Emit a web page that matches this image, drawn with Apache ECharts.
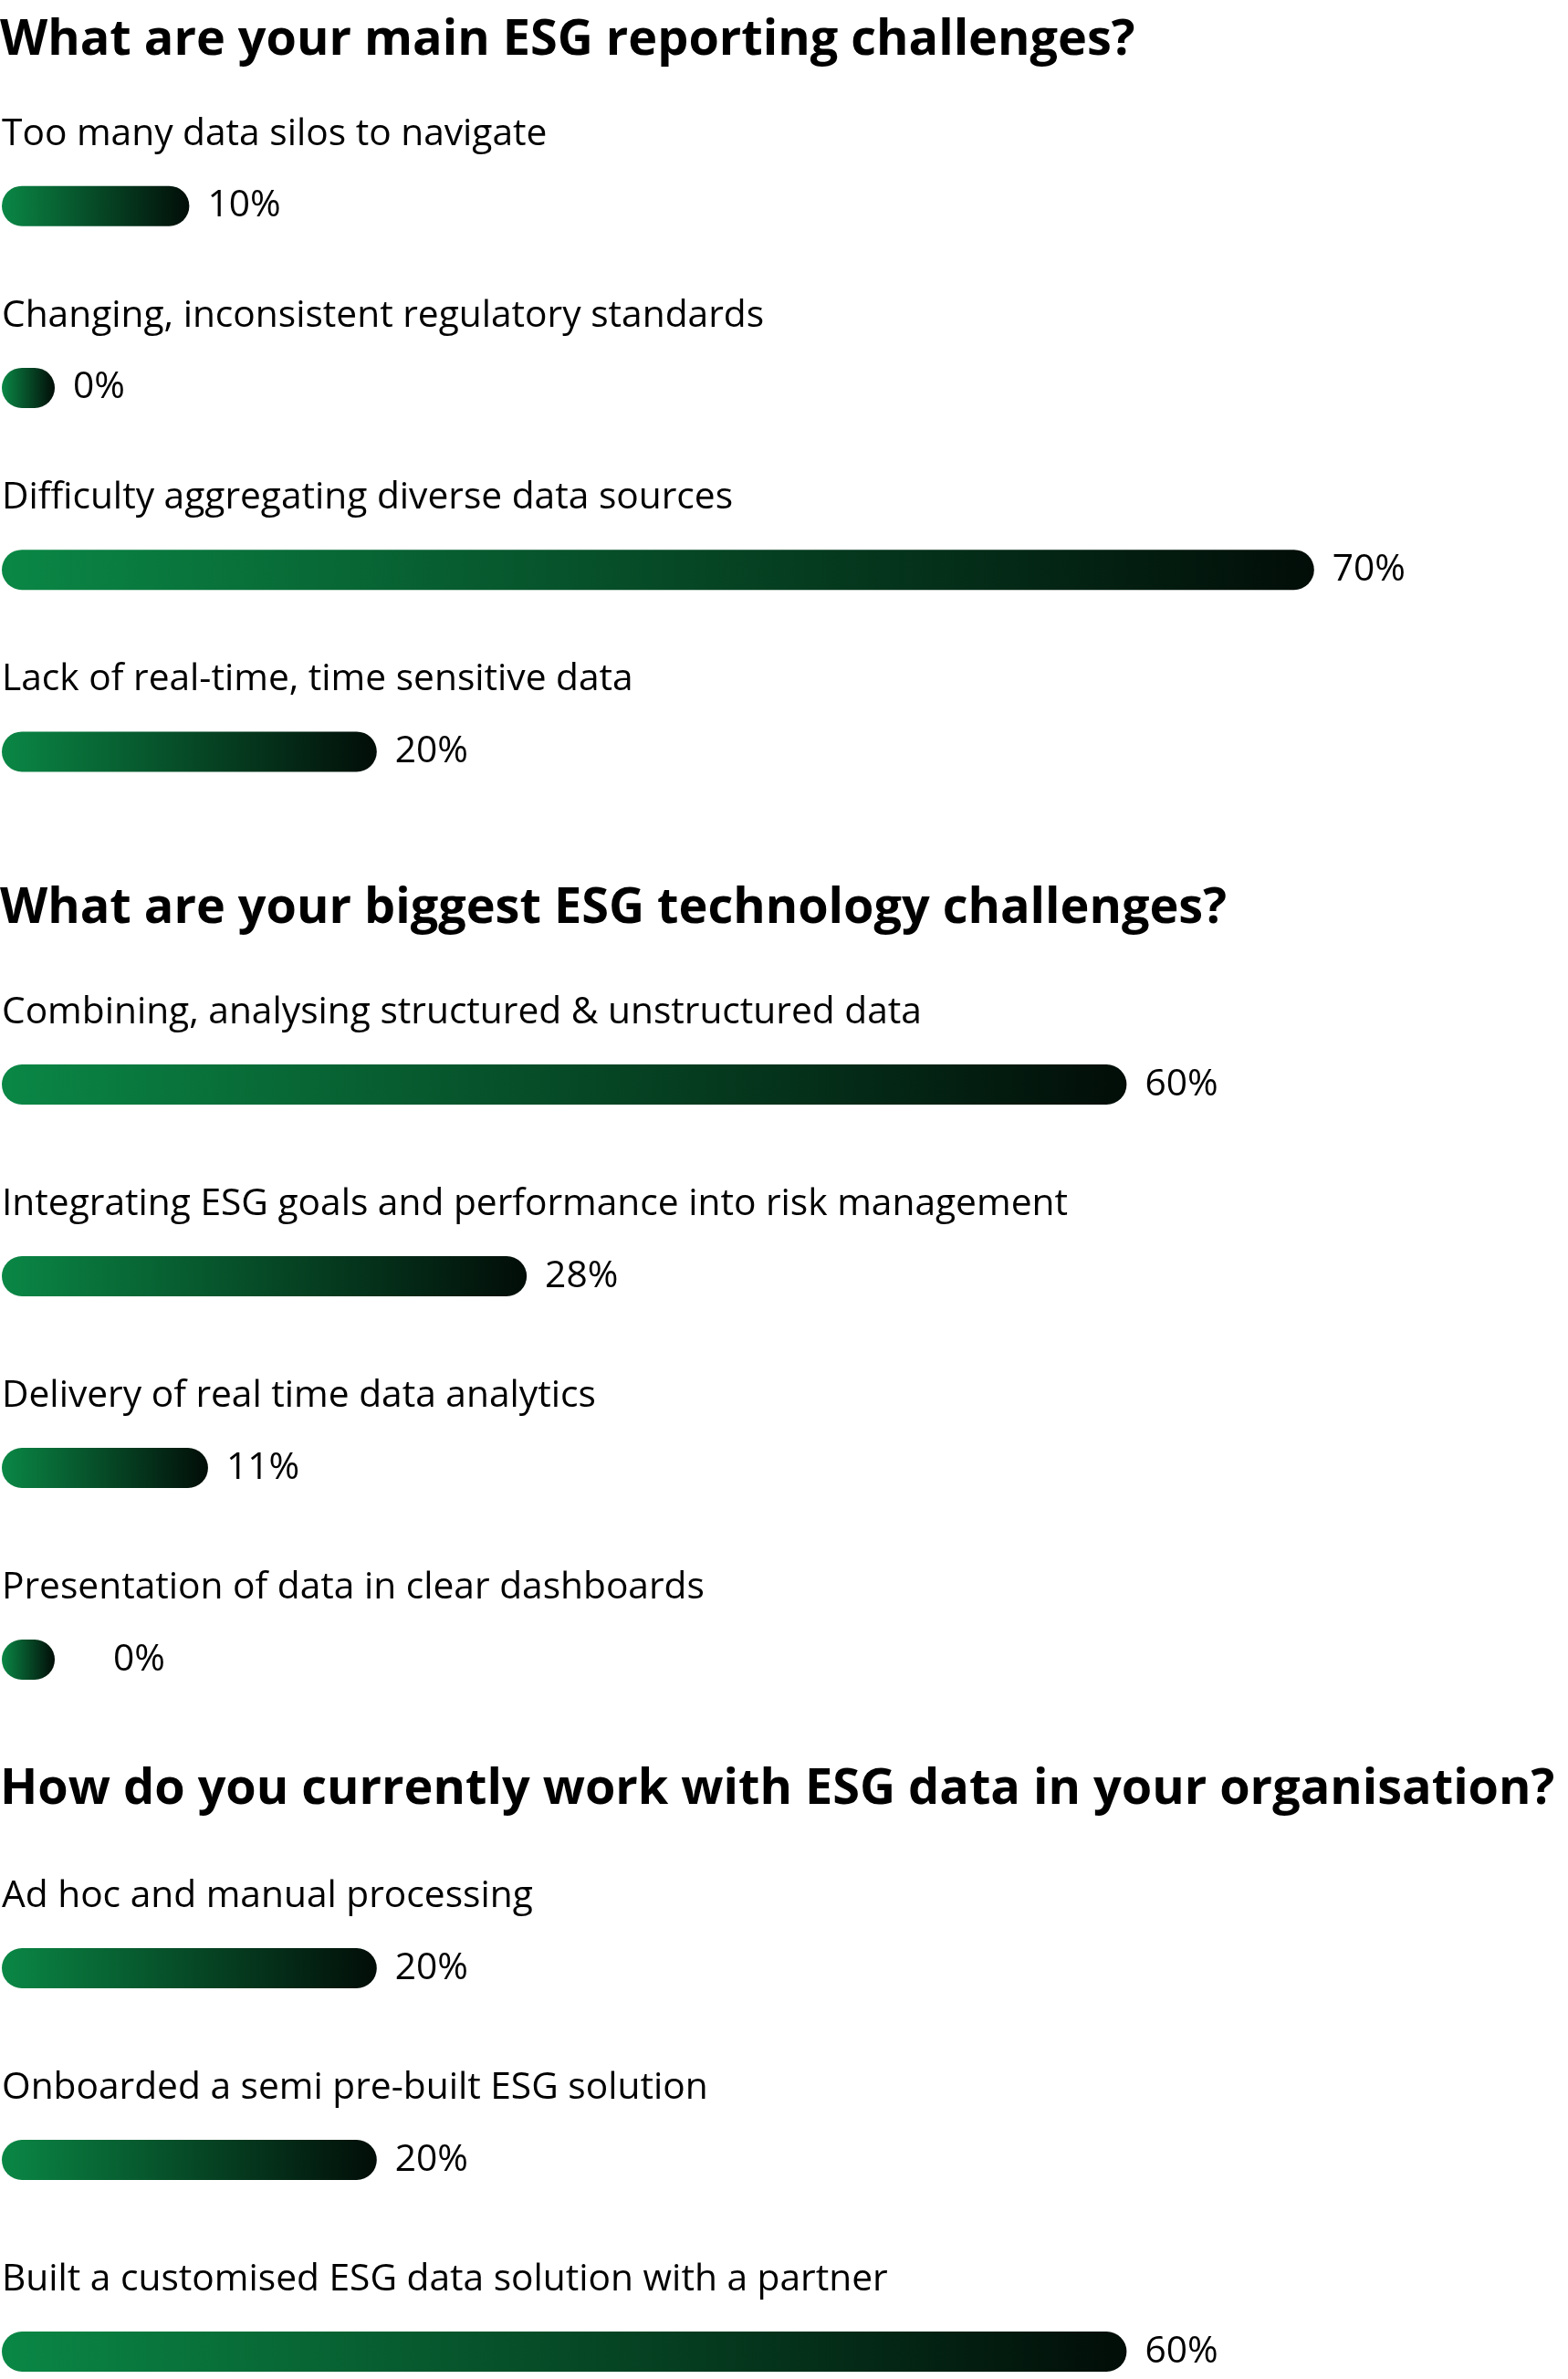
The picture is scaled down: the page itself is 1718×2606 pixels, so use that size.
<!DOCTYPE html>
<html>
<head>
<meta charset="utf-8">
<script src="https://cdn.jsdelivr.net/npm/echarts@6/dist/echarts.min.js"></script>
<style>
  html, body { margin: 0; padding: 0; background: #ffffff; }
  #chart { width: 1718px; height: 2606px; }
</style>
</head>
<body>
<div id="chart"></div>
<script>
// ---- data ----
const sectionTitles = [
  'What are your main ESG reporting challenges?',
  'What are your biggest ESG technology challenges?',
  'How do you currently work with ESG data in your organisation?'
];
const reportingCategories = [
  'Too many data silos to navigate',
  'Changing, inconsistent regulatory standards',
  'Difficulty aggregating diverse data sources',
  'Lack of real-time, time sensitive data'
];
const reportingValues = [10, 0, 70, 20];

const technologyCategories = [
  'Combining, analysing structured & unstructured data',
  'Integrating ESG goals and performance into risk management',
  'Delivery of real time data analytics',
  'Presentation of data in clear dashboards'
];
const technologyValues = [60, 28, 11, 0];

const workCategories = [
  'Ad hoc and manual processing',
  'Onboarded a semi pre-built ESG solution',
  'Built a customised ESG data solution with a partner'
];
const workValues = [20, 20, 60];

// ---- layout / styles ----
const FONT = '"Open Sans", "Noto Sans", sans-serif';
const sections = [
  { cats: reportingCategories, vals: reportingValues, titleTop: 18, gridTop: 126, gridHeight: 797 },
  { cats: technologyCategories, vals: technologyValues, titleTop: 969, gridTop: 1083, gridHeight: 840 },
  { cats: workCategories, vals: workValues, titleTop: 1934, gridTop: 2051, gridHeight: 630 }
];

const barGradient = new echarts.graphic.LinearGradient(0, 0, 1, 0, [
  { offset: 0, color: '#0a8745' },
  { offset: 1, color: '#020d08' }
]);

const valueSeries = sections.map((s, i) => ({
  type: 'bar',
  name: 'value' + i,
  xAxisIndex: i,
  yAxisIndex: i,
  barWidth: 44,
  barGap: '-100%',
  barMinHeight: 58,
  z: 3,
  data: s.vals.map((v, j) => {
    const item = { value: v };
    // last item of the technology section has its label set further out
    if (i === 1 && j === s.vals.length - 1) item.label = { distance: 64 };
    return item;
  }),
  itemStyle: {
    color: barGradient,
    borderRadius: 22
  },
  label: {
    show: true,
    position: 'right',
    distance: 20,
    formatter: '{c}%',
    fontFamily: FONT,
    fontSize: 40.7,
    color: '#000000'
  }
}));

// transparent twin bars that carry the category name above each bar
const nameSeries = sections.map((s, i) => ({
  type: 'bar',
  name: 'name' + i,
  xAxisIndex: i,
  yAxisIndex: i,
  barWidth: 44,
  barGap: '-100%',
  barMinHeight: 58,
  z: 2,
  silent: true,
  data: s.vals,
  itemStyle: { color: 'rgba(0,0,0,0)' },
  label: {
    show: true,
    position: [0, -77],
    align: 'left',
    verticalAlign: 'top',
    formatter: '{b}',
    fontFamily: FONT,
    fontSize: 40.7,
    lineHeight: 41,
    color: '#000000'
  }
}));

const option = {
  backgroundColor: '#ffffff',
  animation: false,
  title: sections.map((s, i) => ({
    text: sectionTitles[i],
    left: 0,
    top: s.titleTop,
    padding: 0,
    textStyle: {
      fontFamily: FONT,
      fontWeight: 'bold',
      fontSize: 54,
      lineHeight: 54,
      color: '#000000'
    }
  })),
  grid: sections.map(s => ({
    left: 2,
    width: 2054,
    top: s.gridTop,
    height: s.gridHeight,
    containLabel: false,
    outerBoundsMode: 'none'
  })),
  xAxis: sections.map((s, i) => ({
    type: 'value',
    gridIndex: i,
    min: 0,
    max: 100,
    show: false
  })),
  yAxis: sections.map((s, i) => ({
    type: 'category',
    gridIndex: i,
    inverse: true,
    data: s.cats,
    axisLine: { show: false },
    axisTick: { show: false },
    splitLine: { show: false },
    axisLabel: { show: false }
  })),
  series: nameSeries.concat(valueSeries)
};

const chart = echarts.init(document.getElementById('chart'), null, { renderer: 'canvas' });
chart.setOption(option);
</script>
</body>
</html>
